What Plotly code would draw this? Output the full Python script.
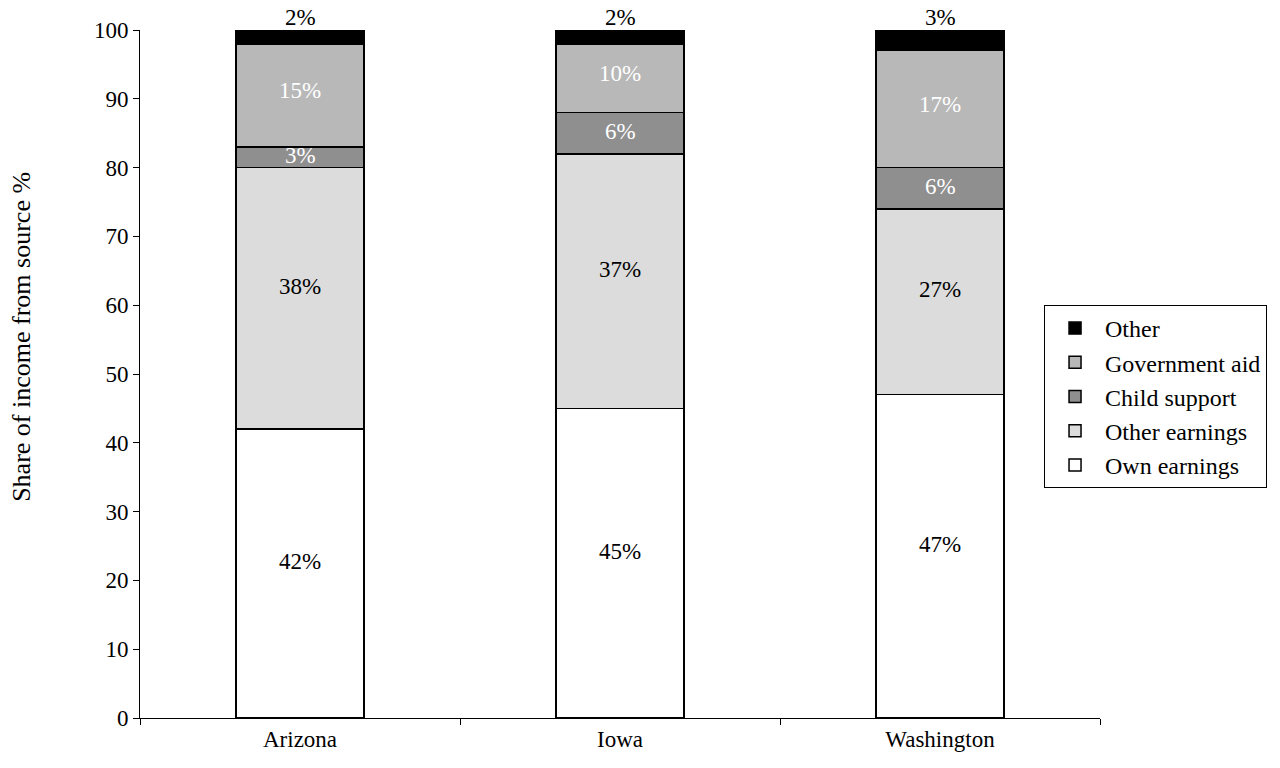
import plotly.graph_objects as go

states = ["Arizona", "Iowa", "Washington"]
own_earnings = [42, 45, 47]
other_earnings = [38, 37, 27]
child_support = [3, 6, 6]
government_aid = [15, 10, 17]
other = [2, 2, 3]

series = [
    ("Own earnings", own_earnings, "#ffffff", "black"),
    ("Other earnings", other_earnings, "#dcdcdc", "black"),
    ("Child support", child_support, "#8f8f8f", "white"),
    ("Government aid", government_aid, "#b8b8b8", "white"),
    ("Other", other, "#000000", "black"),
]

FONT = "Liberation Serif, Times New Roman, serif"
FS = 23
fig = go.Figure()
annotations = []
base = [0, 0, 0]
for name, vals, color, tcol in series:
    fig.add_trace(go.Bar(
        x=states, y=vals, name=name, width=0.4,
        marker=dict(color=color, line=dict(color="black", width=1.5)),
    ))
    for i, v in enumerate(vals):
        if name == "Other":
            annotations.append(dict(x=states[i], y=base[i] + v, text=f"{v}%", showarrow=False,
                                    yanchor="bottom", yshift=-2,
                                    font=dict(family=FONT, size=FS, color=tcol)))
        else:
            shift = 12 if v > 20 else (5 if v >= 10 else 2)
            annotations.append(dict(x=states[i], y=base[i] + v / 2, text=f"{v}%",
                                    showarrow=False, yanchor="middle", yshift=shift,
                                    font=dict(family=FONT, size=FS, color=tcol)))
        base[i] += v

# y-axis title (placed as in the reference, slightly above the axis centre)
annotations.append(dict(xref="paper", yref="paper", x=-0.1229, y=0.554,
                        text="Share of income from source %", textangle=-90,
                        showarrow=False, xanchor="center", yanchor="middle",
                        font=dict(family=FONT, size=26, color="black")))

fig.update_layout(
    barmode="stack",
    width=1280, height=768,
    margin=dict(l=140, r=180, t=30, b=50),
    plot_bgcolor="white", paper_bgcolor="white",
    font=dict(family=FONT, size=FS, color="black"),
    annotations=annotations,
    legend=dict(x=0.9417, y=0.6003, xanchor="left", yanchor="top",
                traceorder="reversed", bordercolor="black", borderwidth=1,
                font=dict(family=FONT, size=24), itemwidth=50, tracegroupgap=0),
    xaxis=dict(range=[-0.5, 2.5], showline=True, linecolor="black", linewidth=1,
               ticks="outside", ticklen=6, tickson="boundaries", tickcolor="black",
               showgrid=False, tickfont=dict(family=FONT, size=FS)),
    yaxis=dict(range=[0, 100], dtick=10, showline=True, linecolor="black", linewidth=1,
               ticks="outside", ticklen=6, tickcolor="black", showgrid=False, zeroline=False,
               tickfont=dict(family=FONT, size=FS)),
)

fig.write_html("out.html")
